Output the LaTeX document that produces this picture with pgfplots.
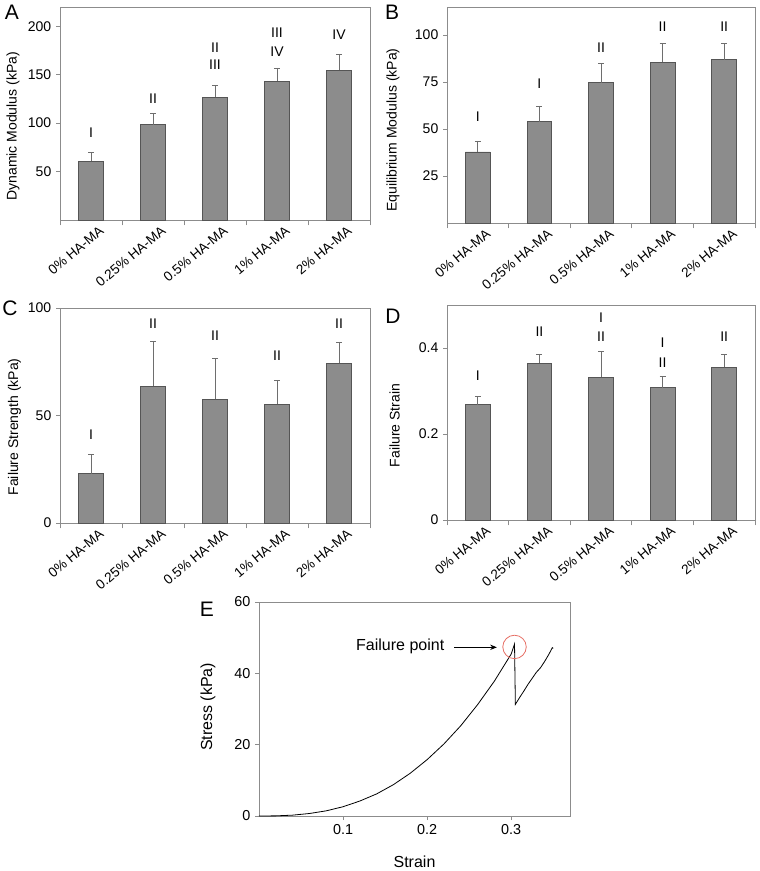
\documentclass[border=0pt]{standalone}
\usepackage{fontspec}
\setmainfont{Liberation Sans}
\usepackage{pgfplots}
\usepackage{pgfplotstable}
\pgfplotsset{compat=1.18}
\usetikzlibrary{arrows.meta}

\definecolor{barfill}{RGB}{140,140,140}
\definecolor{baredge}{RGB}{85,85,85}
\definecolor{axgray}{RGB}{140,140,140}
\definecolor{errgray}{RGB}{110,110,110}
\definecolor{circred}{RGB}{230,110,100}

% x = category index, y = mean, e = upper error
\pgfplotstableread{
x y e
0 60.7 9.3
1 98.6 11.7
2 126.6 12.7
3 143.4 13.6
4 154.8 16.6
}\dynmod
\pgfplotstableread{
x y e
0 37.8 5.9
1 53.9 8.4
2 74.6 10.2
3 85.5 9.9
4 86.9 8.5
}\eqmod
\pgfplotstableread{
x y e
0 23.0 9.0
1 63.7 20.6
2 57.5 18.9
3 55.3 11.0
4 74.2 10.0
}\failstr
\pgfplotstableread{
x y e
0 0.268 0.020
1 0.365 0.019
2 0.332 0.059
3 0.308 0.026
4 0.355 0.031
}\failstrain
\pgfplotstableread{
x y
0 0
0.02 0.04
0.04 0.24
0.06 0.7
0.08 1.45
0.10 2.6
0.12 4.2
0.14 6.2
0.16 8.8
0.18 12.0
0.20 15.8
0.22 20.2
0.24 25.3
0.26 31.2
0.28 37.8
0.30 45.4
0.304 48.2
0.305 31.3
0.31 33.2
0.315 35.0
0.32 36.9
0.325 38.6
0.33 40.3
0.335 41.6
0.34 43.4
0.345 45.4
0.349 47.2
0.35 47.0
}\curve

\newcommand{\lbl}{\fontsize{10.5}{12}\selectfont}

\pgfplotsset{
  panel/.style={
    scale only axis,
    anchor=south west,
    axis line style={axgray, line width=0.7pt},
    tick style={axgray, line width=0.6pt},
    tick align=outside,
    major tick length=3pt,
    ticklabel style={font=\lbl},
    label style={font=\lbl},
    /pgf/number format/assume math mode=true,
    xtick pos=bottom, ytick pos=left,
    clip=false,
  },
  barpanel/.style={
    panel,
    xmin=-0.5, xmax=4.5, ymin=0,
    xtick={0,...,4},
    xticklabels={0\% HA-MA,0.25\% HA-MA,0.5\% HA-MA,1\% HA-MA,2\% HA-MA},
    major x tick style={draw=none},
    minor xtick={-0.5,0.5,...,4.5},
    minor tick length=4pt,
    xticklabel style={rotate=40, anchor=north east, inner sep=1pt, xshift=5pt, yshift=-3pt,
      font=\fontsize{10.2}{12}\selectfont},
  },
  bars/.style={
    ybar, bar width=0.4, fill=barfill, draw=baredge, line width=0.6pt,
    error bars/.cd, y dir=plus, y explicit,
    error bar style={errgray, line width=0.6pt},
    error mark options={rotate=90, mark size=2.2pt, errgray, line width=0.6pt},
  },
}

\begin{document}
\begin{tikzpicture}
\path[use as bounding box] (0,0) rectangle (570pt,653.25pt);

% A
\begin{axis}[barpanel, at={(45pt,488.25pt)}, width=232.5pt, height=159.75pt,
  ymax=220, ytick={50,100,150,200},
  ylabel={Dynamic Modulus (kPa)},
  ylabel style={at={(rel axis cs:-0.152,0.44)}, anchor=center}]
\addplot[bars] table[x=x, y=y, y error=e] {\dynmod};
\node[font=\lbl] at (axis cs:0,90) {I};
\node[font=\lbl] at (axis cs:1,125) {II};
\node[font=\lbl] at (axis cs:2,178) {II};
\node[font=\lbl] at (axis cs:2,160) {III};
\node[font=\lbl] at (axis cs:3,193) {III};
\node[font=\lbl] at (axis cs:3,174) {IV};
\node[font=\lbl] at (axis cs:4,191) {IV};
\end{axis}
\node[font=\fontsize{15.75}{18}\selectfont] at (9pt,644.25pt) {A};

% B
\begin{axis}[barpanel, at={(335.25pt,486pt)}, width=231pt, height=162pt,
  ymax=115, ytick={25,50,75,100},
  ylabel={Equilibrium Modulus (kPa)},
  ylabel style={at={(rel axis cs:-0.175,0.43)}, anchor=center}]
\addplot[bars] table[x=x, y=y, y error=e] {\eqmod};
\node[font=\lbl] at (axis cs:0,56.7) {I};
\node[font=\lbl] at (axis cs:1,74.1) {I};
\node[font=\lbl] at (axis cs:2,93.6) {II};
\node[font=\lbl] at (axis cs:3,104.3) {II};
\node[font=\lbl] at (axis cs:4,104.6) {II};
\end{axis}
\node[font=\fontsize{15.75}{18}\selectfont] at (294pt,644.25pt) {B};

% C
\begin{axis}[barpanel, at={(45pt,261pt)}, width=232.5pt, height=161.25pt,
  ymax=100, ytick={0,50,100},
  ylabel={Failure Strength (kPa)},
  ylabel style={at={(rel axis cs:-0.147,0.447)}, anchor=center}]
\addplot[bars] table[x=x, y=y, y error=e] {\failstr};
\node[font=\lbl] at (axis cs:0,41.1) {I};
\node[font=\lbl] at (axis cs:1,92.7) {II};
\node[font=\lbl] at (axis cs:2,87.3) {II};
\node[font=\lbl] at (axis cs:3,78) {II};
\node[font=\lbl] at (axis cs:4,92.7) {II};
\end{axis}
\node[font=\fontsize{15.75}{18}\selectfont] at (7.5pt,422.25pt) {C};

% D
\begin{axis}[barpanel, at={(335.25pt,263.25pt)}, width=231pt, height=161.25pt,
  ymax=0.5, ytick={0,0.2,0.4},
  yticklabel style={/pgf/number format/.cd, fixed, precision=1},
  ylabel={Failure Strain},
  ylabel style={at={(rel axis cs:-0.17,0.44)}, anchor=center}]
\addplot[bars] table[x=x, y=y, y error=e] {\failstrain};
\node[font=\lbl] at (axis cs:0,0.336) {I};
\node[font=\lbl] at (axis cs:1,0.439) {II};
\node[font=\lbl] at (axis cs:2,0.470) {I};
\node[font=\lbl] at (axis cs:2,0.426) {II};
\node[font=\lbl] at (axis cs:3,0.412) {I};
\node[font=\lbl] at (axis cs:3,0.366) {II};
\node[font=\lbl] at (axis cs:4,0.426) {II};
\end{axis}
\node[font=\fontsize{15.75}{18}\selectfont] at (294.75pt,416.25pt) {D};

% E
\begin{axis}[panel, at={(194.25pt,41.25pt)}, width=233.25pt, height=160.5pt,
  xmin=0, xmax=0.37, ymin=0, ymax=60,
  xtick={0.1,0.2,0.3}, ytick={0,20,40,60},
  xticklabel style={/pgf/number format/.cd, fixed, precision=1},
  ticklabel style={font=\fontsize{10.8}{12}\selectfont},
  label style={font=\fontsize{12}{14}\selectfont},
  xlabel={Strain}, ylabel={Stress (kPa)},
  ylabel style={at={(rel axis cs:-0.164,0.51)}, anchor=center},
  xlabel style={at={(rel axis cs:0.5,-0.215)}, anchor=center}]
\addplot[black, line width=0.6pt] table[x=x, y=y] {\curve};
\draw[circred, line width=0.6pt] (axis cs:0.304,47.4) circle[radius=8.8pt];
\draw[-{Stealth[length=5pt,width=4pt]}, line width=0.9pt] (axis cs:0.232,47.3) -- (axis cs:0.283,47.3);
\node[font=\fontsize{12}{14}\selectfont] at (axis cs:0.168,47.6) {Failure point};
\end{axis}
\node[font=\fontsize{15.75}{18}\selectfont] at (155.25pt,196.5pt) {E};
\end{tikzpicture}
\end{document}
